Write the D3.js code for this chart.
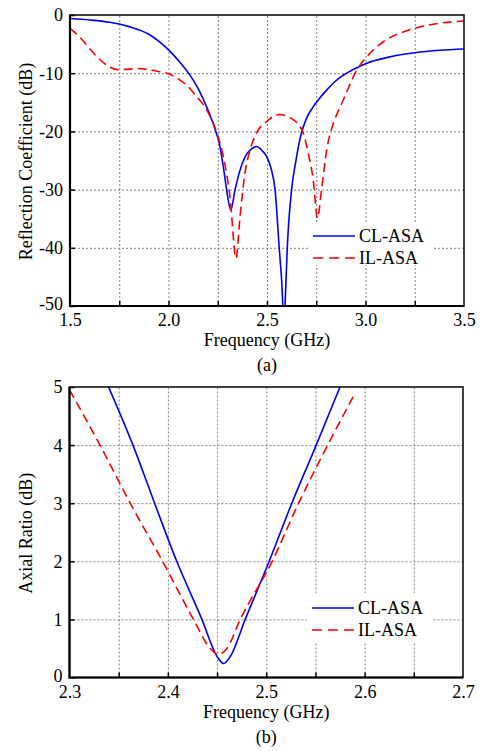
<!DOCTYPE html>
<html>
<head>
<meta charset="utf-8">
<script src="https://cdn.jsdelivr.net/npm/d3@7"></script>
<style>
  body { margin: 0; background: #fff; }
  svg text { font-family: "Liberation Serif", "Times New Roman", Times, "DejaVu Serif", serif; }
</style>
</head>
<body>
<div id="chart"></div>
<script>
// ---- data ----
const seriesNames = ["CL-ASA", "IL-ASA"];

// (a) reflection coefficient, [GHz, dB]
const s11Freq_CL = [1.5, 1.6, 1.7, 1.8, 1.9, 1.95, 2.0, 2.05, 2.1, 2.15, 2.2, 2.236, 2.26, 2.28, 2.295, 2.316, 2.338, 2.36, 2.39, 2.422, 2.448, 2.475, 2.498, 2.52, 2.541, 2.562, 2.575, 2.586, 2.596, 2.603, 2.625, 2.648, 2.673, 2.7, 2.73, 2.76, 2.8, 2.84, 2.88, 2.93, 2.98, 3.006, 3.124, 3.25, 3.378, 3.5];
const s11Val_CL  = [-0.6, -0.85, -1.25, -2.0, -3.3, -4.5, -6.0, -7.8, -9.9, -12.6, -16.3, -19.6, -22.4, -26.5, -30, -33.5, -30, -27.0, -24.3, -23.0, -22.6, -23.3, -24.3, -26.3, -30, -40, -46, -53, -46, -40, -30, -24.8, -20.5, -17.8, -16.0, -14.6, -13.0, -11.6, -10.5, -9.5, -8.7, -8.3, -7.2, -6.5, -6.07, -5.84];

const s11Freq_IL = [1.5, 1.55, 1.6, 1.65, 1.7, 1.75, 1.8, 1.85, 1.9, 1.95, 2.0, 2.05, 2.1, 2.135, 2.194, 2.245, 2.278, 2.312, 2.343, 2.363, 2.388, 2.414, 2.448, 2.498, 2.562, 2.634, 2.684, 2.71, 2.735, 2.756, 2.777, 2.803, 2.837, 2.862, 2.887, 2.92, 2.947, 2.975, 3.006, 3.09, 3.192, 3.25, 3.378, 3.5];
const s11Val_IL  = [-2.3, -3.8, -5.8, -7.6, -8.9, -9.4, -9.3, -9.2, -9.4, -9.7, -10.1, -11.0, -12.3, -13.7, -16.3, -20.2, -24.3, -31.2, -41.8, -34.7, -27.2, -23.2, -20.2, -18.3, -17.1, -18.0, -20.3, -23.8, -28.4, -34.9, -30, -23.2, -18.6, -16.5, -14.6, -12.0, -10.0, -8.5, -7.2, -4.6, -2.9, -2.3, -1.4, -1.03];

// (b) axial ratio, [GHz, dB]
const arFreq_CL = [2.3397, 2.3645, 2.3865, 2.409, 2.4346, 2.45, 2.4566, 2.4634, 2.4786, 2.503, 2.526, 2.5508, 2.575];
const arVal_CL  = [5.0, 4.0, 3.0, 2.0, 1.0, 0.36, 0.24, 0.36, 1.0, 2.0, 3.0, 4.0, 5.0];

const arFreq_IL = [2.3, 2.331, 2.3617, 2.3946, 2.426, 2.443, 2.4515, 2.46, 2.4736, 2.506, 2.5329, 2.5624, 2.5905];
const arVal_IL  = [4.95, 4.0, 3.0, 2.0, 1.0, 0.5, 0.4, 0.5, 1.0, 2.0, 3.0, 4.0, 4.9];

// ticks
const topXTicks = [1.5, 2.0, 2.5, 3.0, 3.5];
const topXGrid = [1.75, 2.0, 2.25, 2.5, 2.75, 3.0, 3.25];
const topYTicks = [0, -10, -20, -30, -40, -50];
const botXTicks = [2.3, 2.4, 2.5, 2.6, 2.7];
const botXGrid = [2.35, 2.4, 2.45, 2.5, 2.55, 2.6, 2.65];
const botYTicks = [0, 1, 2, 3, 4, 5];

const colors = ["#0000ff", "#ff0000"];
const dashes = [null, "9,5"];
const FONT = '"Liberation Serif", "Times New Roman", Times, "DejaVu Serif", serif';

const svg = d3.select("#chart").append("svg")
  .attr("width", 480)
  .attr("height", 751);

function zip(xs, ys) { return xs.map((x, i) => [x, ys[i]]); }

function drawPanel(opt) {
  const x = d3.scaleLinear().domain(opt.xDomain).range([opt.left, opt.right]);
  const y = d3.scaleLinear().domain(opt.yDomain).range([opt.bottom, opt.top]);
  const w = opt.right - opt.left, h = opt.bottom - opt.top;

  const g = svg.append("g");

  // grid
  g.append("g")
    .attr("transform", "translate(0," + opt.bottom + ")")
    .call(d3.axisBottom(x).tickValues(opt.xGrid).tickSize(-h).tickFormat(""))
    .call(s => s.select(".domain").remove())
    .selectAll("line").attr("stroke", "#808080").attr("stroke-dasharray", "2,2");
  g.append("g")
    .attr("transform", "translate(" + opt.left + ",0)")
    .call(d3.axisLeft(y).tickValues(opt.yTicks.filter(v => v !== opt.yDomain[0] && v !== opt.yDomain[1])).tickSize(-w).tickFormat(""))
    .call(s => s.select(".domain").remove())
    .selectAll("line").attr("stroke", "#808080").attr("stroke-dasharray", "2,2");

  // curves
  const clipId = "clip" + opt.id;
  g.append("clipPath").attr("id", clipId)
    .append("rect").attr("x", opt.left).attr("y", opt.top).attr("width", w).attr("height", h);

  const line = d3.line()
    .x(d => x(d[0]))
    .y(d => y(d[1]))
    .curve(d3.curveMonotoneX);

  opt.series.forEach((s, i) => {
    g.append("path")
      .datum(s)
      .attr("clip-path", "url(#" + clipId + ")")
      .attr("fill", "none")
      .attr("stroke", colors[i])
      .attr("stroke-width", 1.6)
      .attr("stroke-dasharray", dashes[i])
      .attr("d", line);
  });

  // inward tick marks
  g.append("g")
    .attr("transform", "translate(0," + opt.bottom + ")")
    .call(d3.axisBottom(x).tickValues(opt.xGrid).tickSize(-5).tickFormat(""))
    .call(s => s.select(".domain").remove())
    .selectAll("line").attr("stroke", "#000").attr("stroke-width", 1.5);
  g.append("g")
    .attr("transform", "translate(" + opt.left + ",0)")
    .call(d3.axisLeft(y).tickValues(opt.yTicks).tickSize(-5).tickFormat(""))
    .call(s => s.select(".domain").remove())
    .selectAll("line").attr("stroke", "#000").attr("stroke-width", 1.5);

  // frame
  g.append("rect")
    .attr("x", opt.left).attr("y", opt.top)
    .attr("width", w).attr("height", h)
    .attr("fill", "none").attr("stroke", "#111").attr("stroke-width", 1.6);
  g.append("path")
    .attr("d", "M" + opt.left + "," + opt.top + "V" + opt.bottom + "H" + opt.right)
    .attr("fill", "none").attr("stroke", "#000").attr("stroke-width", 2.2);

  // tick labels
  const xl = g.append("g")
    .attr("transform", "translate(0," + opt.bottom + ")")
    .call(d3.axisBottom(x).tickValues(opt.xTicks).tickSize(0).tickFormat(d3.format(".1f")));
  xl.attr("font-family", FONT);
  xl.select(".domain").remove();
  xl.selectAll("text")
    .attr("y", 20).attr("dy", null)
    .attr("font-family", FONT).attr("font-size", 18).attr("fill", "#000");

  const yl = g.append("g")
    .attr("transform", "translate(" + opt.left + ",0)")
    .call(d3.axisLeft(y).tickValues(opt.yTicks).tickSize(0).tickFormat(d => String(d)));
  yl.attr("font-family", FONT);
  yl.select(".domain").remove();
  yl.selectAll("text")
    .attr("x", -7).attr("dy", d => d === opt.yDomain[0] ? "0.2em" : "0.33em")
    .attr("font-family", FONT).attr("font-size", 18).attr("fill", "#000");

  // axis titles
  g.append("text")
    .attr("x", (opt.left + opt.right) / 2).attr("y", opt.bottom + 40)
    .attr("text-anchor", "middle").attr("font-size", 18).attr("font-family", FONT)
    .text("Frequency (GHz)");
  g.append("text")
    .attr("transform", "translate(32," + ((opt.top + opt.bottom) / 2 + 1) + ") rotate(-90)")
    .attr("text-anchor", "middle").attr("font-size", 18).attr("font-family", FONT)
    .text(opt.yLabel);
  g.append("text")
    .attr("x", (opt.left + opt.right) / 2).attr("y", opt.bottom + 65)
    .attr("text-anchor", "middle").attr("font-size", 18).attr("font-family", FONT)
    .text(opt.caption);

  // legend
  const lg = g.append("g");
  lg.append("rect")
    .attr("x", opt.legend.box[0]).attr("y", opt.legend.box[1])
    .attr("width", opt.legend.box[2]).attr("height", opt.legend.box[3])
    .attr("fill", "#fff");
  seriesNames.forEach((name, i) => {
    const ly = opt.legend.y0 + i * 22;
    lg.append("line")
      .attr("x1", opt.legend.x0).attr("x2", opt.legend.x0 + 42)
      .attr("y1", ly).attr("y2", ly)
      .attr("stroke", colors[i]).attr("stroke-width", 1.6)
      .attr("stroke-dasharray", i === 1 ? "10,6" : null);
    lg.append("text")
      .attr("x", opt.legend.x0 + 46).attr("y", ly + 6)
      .attr("font-size", 18).attr("font-family", FONT)
      .text(name);
  });
}

drawPanel({
  id: "a",
  left: 70, right: 464, top: 15, bottom: 306,
  xDomain: [1.5, 3.5], yDomain: [-50, 0],
  xTicks: topXTicks, xGrid: topXGrid, yTicks: topYTicks,
  yLabel: "Reflection Coefficient (dB)", caption: "(a)",
  series: [zip(s11Freq_CL, s11Val_CL), zip(s11Freq_IL, s11Val_IL)],
  legend: { box: [308, 222, 125, 43], x0: 313, y0: 236 }
});

drawPanel({
  id: "b",
  left: 69.5, right: 463, top: 387, bottom: 677.5,
  xDomain: [2.3, 2.7], yDomain: [0, 5],
  xTicks: botXTicks, xGrid: botXGrid, yTicks: botYTicks,
  yLabel: "Axial Ratio (dB)", caption: "(b)",
  series: [zip(arFreq_CL, arVal_CL), zip(arFreq_IL, arVal_IL)],
  legend: { box: [307, 593, 125, 50], x0: 312, y0: 608 }
});
</script>
</body>
</html>
